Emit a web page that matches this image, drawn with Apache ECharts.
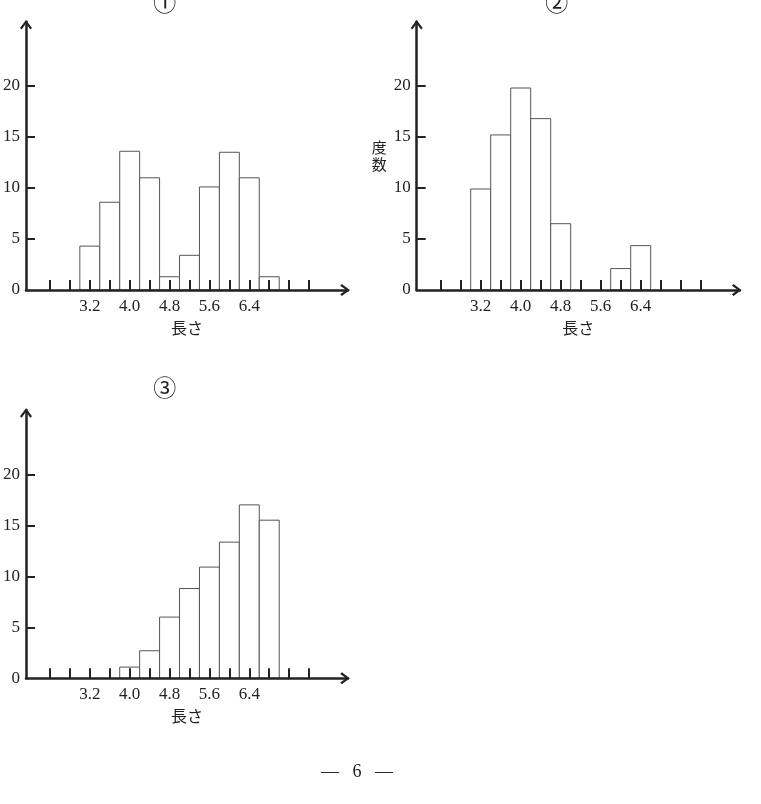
<!DOCTYPE html>
<html><head><meta charset="utf-8">
<script src="https://cdn.jsdelivr.net/npm/echarts@6/dist/echarts.min.js"></script>
<style>html,body{margin:0;padding:0;background:#fff}#c{width:761px;height:804px}</style>
</head><body><div id="c"></div>
<script>
// ---- data ----
const binCenters = [3.2, 3.6, 4.0, 4.4, 4.8, 5.2, 5.6, 6.0, 6.4, 6.8];
const freq1 = [4.3, 8.6, 13.6, 11.0, 1.3, 3.4, 10.1, 13.5, 11.0, 1.3];
const freq2 = [9.9, 15.2, 19.8, 16.8, 6.5, 0, 0, 2.1, 4.35, 0];
const freq3 = [0, 0, 1.1, 2.7, 6.0, 8.8, 10.9, 13.35, 17.0, 15.5];
const binWidth = 0.4;
const xTickValues = [2.4, 2.8, 3.2, 3.6, 4.0, 4.4, 4.8, 5.2, 5.6, 6.0, 6.4, 6.8, 7.2, 7.6];
const xLabelValues = [3.2, 4.0, 4.8, 5.6, 6.4];
const yTickValues = [5, 10, 15, 20];
const yLabelValues = [0, 5, 10, 15, 20];
const panelTitles = ['①', '②', '③'];
const xName = '長さ';
const yName = '度数';
const footerText = '—\u2002 6 \u2002—';

// ---- layout / style ----
const serif = 'Liberation Serif';
const cjk = 'Noto Sans CJK JP';
const ink = '#222';
const grids = [
  {left: 25, top: 21.7, width: 323, height: 268.3},
  {left: 416.7, top: 21.7, width: 323, height: 268.3},
  {left: 25, top: 410, width: 323, height: 268.3}
];
const chevron = 'path://M6,0 L12,8 L10.3,9.6 L6,3.6 L1.7,9.6 L0,8 Z';
const arrowLine = {
  show: true,
  lineStyle: {color: ink, width: 2.5},
  symbol: ['none', chevron],
  symbolSize: [12, 9.6],
  symbolOffset: [0, -3]
};

const xAxes = grids.map((g, i) => ({
  type: 'value', gridIndex: i, min: 1.92, max: 8.38, z: 10,
  axisLine: arrowLine,
  splitLine: {show: false},
  axisTick: {show: true, inside: true, length: 10, customValues: xTickValues,
             lineStyle: {color: ink, width: 2}},
  axisLabel: {customValues: xLabelValues, formatter: v => v.toFixed(1), margin: 8,
              fontFamily: serif, fontSize: 17, color: ink},
  name: xName, nameLocation: 'middle', nameGap: 30,
  nameTextStyle: {fontFamily: cjk, fontSize: 16, color: ink}
}));

const yAxes = grids.map((g, i) => ({
  type: 'value', gridIndex: i, min: 0, max: 26.3, z: 10,
  axisLine: arrowLine,
  splitLine: {show: false},
  axisTick: {show: true, inside: true, length: 9, customValues: yTickValues,
             lineStyle: {color: ink, width: 2}},
  axisLabel: {customValues: yLabelValues, margin: 6,
              fontFamily: serif, fontSize: 17, color: ink},
  name: i === 1 ? yName.split('').join('\n') : '',
  nameLocation: 'middle', nameRotate: 0, nameGap: 30,
  nameTextStyle: {fontFamily: cjk, fontSize: 15, lineHeight: 17, color: ink}
}));

function renderBar(params, api) {
  const c = api.value(0), v = api.value(1);
  const p0 = api.coord([c - binWidth / 2, v]);
  const p1 = api.coord([c + binWidth / 2, 0]);
  return {
    type: 'rect',
    shape: {x: p0[0], y: p0[1], width: p1[0] - p0[0], height: p1[1] - p0[1]},
    style: {fill: '#fff', stroke: '#555', lineWidth: 1}
  };
}

const series = [freq1, freq2, freq3].map((f, i) => ({
  type: 'custom', xAxisIndex: i, yAxisIndex: i, z: 1,
  renderItem: renderBar,
  data: binCenters.map((c, j) => [c, f[j]]).filter(d => d[1] > 0)
}));

const titleCenters = [[164.7, 2], [556.7, 2], [164.7, 387]];
const titleSize = 23;
const titles = panelTitles.map((t, i) => ({
  text: t, left: titleCenters[i][0] - titleSize / 2 - 5, top: titleCenters[i][1] - titleSize / 2 - 5,
  textStyle: {fontFamily: cjk, fontSize: titleSize, fontWeight: 'normal', color: ink}
}));
titles.push({
  text: footerText, left: 316, top: 758,
  textStyle: {fontFamily: serif, fontSize: 18, fontWeight: 'normal', color: ink}
});

const chart = echarts.init(document.getElementById('c'), null, {renderer: 'canvas'});
chart.setOption({
  backgroundColor: '#fff',
  animation: false,
  title: titles,
  grid: grids,
  xAxis: xAxes,
  yAxis: yAxes,
  series: series
});
</script>
</body></html>
